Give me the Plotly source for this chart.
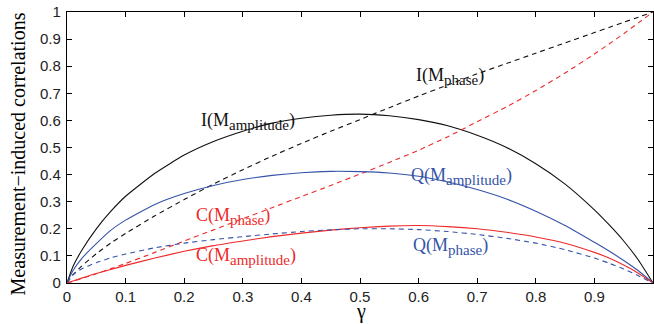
import plotly.graph_objects as go

gamma_amp = [0, 0.01, 0.025, 0.05, 0.075, 0.1, 0.15, 0.2, 0.25, 0.3, 0.35, 0.4, 0.45, 0.5, 0.55, 0.6,
             0.65, 0.7, 0.75, 0.8, 0.85, 0.9, 0.925, 0.95, 0.975, 1]
I_amp = [0, 0.06, 0.12, 0.2, 0.265, 0.32, 0.405, 0.472, 0.522, 0.56, 0.59, 0.608, 0.619, 0.623, 0.617, 0.603,
         0.58, 0.545, 0.5, 0.44, 0.365, 0.27, 0.215, 0.155, 0.085, 0]
Q_amp = [0, 0.045, 0.09, 0.145, 0.195, 0.232, 0.29, 0.33, 0.36, 0.382, 0.397, 0.407, 0.412, 0.411, 0.406, 0.394,
         0.373, 0.345, 0.31, 0.265, 0.212, 0.15, 0.118, 0.083, 0.045, 0]
C_amp = [0, 0.007, 0.018, 0.035, 0.05, 0.065, 0.092, 0.117, 0.138, 0.155, 0.171, 0.184, 0.195, 0.204, 0.21, 0.212,
         0.208, 0.2, 0.187, 0.17, 0.147, 0.113, 0.092, 0.066, 0.036, 0]

gamma_ph = [0, 0.01, 0.025, 0.05, 0.075, 0.1, 0.15, 0.2, 0.25, 0.3, 0.35, 0.4, 0.45, 0.5, 0.55, 0.6,
            0.65, 0.7, 0.75, 0.8, 0.85, 0.9, 0.925, 0.95, 0.975, 1]
I_ph = [0, 0.03, 0.062, 0.108, 0.148, 0.183, 0.248, 0.308, 0.365, 0.418, 0.468, 0.515, 0.56, 0.603, 0.647, 0.69,
        0.731, 0.772, 0.81, 0.848, 0.886, 0.924, 0.943, 0.962, 0.981, 1]
C_ph = [0, 0.006, 0.016, 0.034, 0.053, 0.072, 0.113, 0.155, 0.196, 0.237, 0.278, 0.319, 0.36, 0.402, 0.445, 0.49,
        0.54, 0.595, 0.65, 0.71, 0.775, 0.845, 0.882, 0.92, 0.96, 1]
Q_ph = [0, 0.03, 0.052, 0.075, 0.093, 0.107, 0.13, 0.147, 0.16, 0.171, 0.181, 0.19, 0.196, 0.2, 0.2, 0.197,
        0.19, 0.179, 0.165, 0.147, 0.123, 0.092, 0.073, 0.052, 0.027, 0]

tick_vals = [0, 0.1, 0.2, 0.3, 0.4, 0.5, 0.6, 0.7, 0.8, 0.9, 1]
tick_text = ["0", "0.1", "0.2", "0.3", "0.4", "0.5", "0.6", "0.7", "0.8", "0.9", "1"]

BLACK = "#111111"
BLUE = "#3553a8"
RED = "#ee2a2a"

fig = go.Figure()

def add(x, y, color, dash):
    fig.add_trace(go.Scatter(x=x, y=y, mode="lines",
                             line=dict(color=color, width=1.1, dash=dash, shape="spline", smoothing=0.5),
                             showlegend=False, hoverinfo="skip"))

add(gamma_amp, I_amp, BLACK, "solid")
add(gamma_ph, I_ph, BLACK, "5px,4px")
add(gamma_ph, C_ph, RED, "5px,4px")
add(gamma_amp, Q_amp, BLUE, "solid")
add(gamma_amp, C_amp, RED, "solid")
add(gamma_ph, Q_ph, BLUE, "5px,4px")

SERIF = "Liberation Serif, Times New Roman, serif"
SANS = "Liberation Sans, Arial, Helvetica, sans-serif"

def lab(txt, x, y, color):
    fig.add_annotation(x=x, y=y, xref="x", yref="y", xanchor="left", yanchor="middle",
                       text=txt, showarrow=False, font=dict(family=SERIF, size=18, color=color))

sub = lambda s: "<sub><span style='font-size:15px'>" + s + "</span></sub>"
lab("I(M" + sub("amplitude") + ")", 0.225, 0.596, BLACK)
lab("I(M" + sub("phase") + ")", 0.592, 0.762, BLACK)
lab("Q(M" + sub("amplitude") + ")", 0.583, 0.393, BLUE)
lab("Q(M" + sub("phase") + ")", 0.587, 0.133, BLUE)
lab("C(M" + sub("phase") + ")", 0.216, 0.244, RED)
lab("C(M" + sub("amplitude") + ")", 0.216, 0.096, RED)

fig.add_annotation(x=-0.082, y=0.478, xref="paper", yref="paper", textangle=-90,
                   text="Measurement\u2212induced correlations", showarrow=False,
                   xanchor="center", yanchor="middle",
                   font=dict(family=SERIF, size=20, color="black"))
fig.add_annotation(x=0.502, y=-0.104, xref="paper", yref="paper",
                   text="\u03b3", showarrow=False, xanchor="center", yanchor="middle", borderpad=0,
                   font=dict(family=SERIF, size=20, color="black"))

axis_common = dict(range=[0, 1], showline=True, mirror="ticks", linecolor="black", linewidth=1.3,
                   ticks="inside", ticklen=5, tickwidth=1, tickcolor="black",
                   showgrid=False, zeroline=False, tickvals=tick_vals, ticktext=tick_text,
                   tickfont=dict(family=SANS, size=15, color="#222222"))

fig.update_layout(
    width=654, height=324,
    margin=dict(l=67, r=1, t=12, b=41),
    paper_bgcolor="white", plot_bgcolor="white",
    xaxis=dict(**axis_common),
    yaxis=dict(**axis_common, ticklabelstandoff=2),
)

fig.write_html("out.html", config={"displayModeBar": False},
               post_script="document.body.style.margin='0';document.documentElement.style.overflow='hidden';")
